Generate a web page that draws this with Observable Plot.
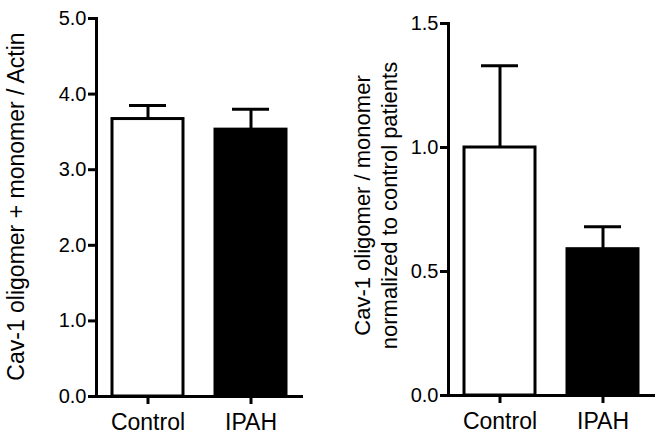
<!DOCTYPE html>
<html>
<head>
<meta charset="utf-8">
<script src="https://cdn.jsdelivr.net/npm/d3@7"></script>
<script src="https://cdn.jsdelivr.net/npm/@observablehq/plot@0.6"></script>
<style>
  html, body { margin: 0; padding: 0; background: #fff; }
  #wrap { position: relative; width: 660px; height: 435px; overflow: hidden; background: #fff; }
  .panel { position: absolute; top: 0; }
  .panel g[aria-label="y-axis tick"], .panel g[aria-label="x-axis tick"],
  .panel g[aria-label="y-axis tick"] *, .panel g[aria-label="x-axis tick"] * { stroke-width: 3px !important; stroke: #000 !important; }
  .panel g[aria-label="y-axis tick label"] text { font-size: 20px !important; }
</style>
</head>
<body>
<div id="wrap">
  <div id="left" class="panel" style="left:0px"></div>
  <div id="right" class="panel" style="left:330px"></div>
</div>
<script>
// ---- data ----
const categories = ["Control", "IPAH"];
const fills = ["white", "black"];

const leftValues = [3.67, 3.53];
const leftSem = [0.18, 0.27];
const leftTicks = [0, 1, 2, 3, 4, 5];
const leftLabel = "Cav-1 oligomer + monomer / Actin";

const rightValues = [1.0, 0.59];
const rightSem = [0.33, 0.09];
const rightTicks = [0, 0.5, 1.0, 1.5];
const rightLabel = "Cav-1 oligomer / monomer\nnormalized to control patients";

const FONT = "'Liberation Sans', Arial, Helvetica, sans-serif";

function panel({values, sem, ticks, domain, label, marginLeft, marginRight, marginTop, marginBottom, labelDx, labelDy, labelSize, lineHeight}) {
  const rows = categories.map((c, i) => ({cat: c, v: values[i], hi: values[i] + sem[i], fill: fills[i]}));
  return Plot.plot({
    width: 330,
    height: 435,
    marginLeft, marginRight, marginTop, marginBottom,
    style: {fontFamily: FONT, color: "black", background: "white", overflow: "visible"},
    x: {domain: categories, paddingInner: 0.31, paddingOuter: 0.155, label: null},
    y: {domain, label: null},
    marks: [
      Plot.barY(rows, {x: "cat", y: "v", fill: "fill", stroke: "black", strokeWidth: 3}),
      Plot.ruleX(rows, {x: "cat", y1: "v", y2: "hi", stroke: "black", strokeWidth: 3}),
      Plot.tickY(rows, {x: "cat", y: "hi", stroke: "black", strokeWidth: 3, insetLeft: 17, insetRight: 17}),
      Plot.frame({anchor: "left", stroke: "black", strokeWidth: 3}),
      Plot.ruleY([0], {stroke: "black", strokeWidth: 3}),
      Plot.axisY({ticks, tickFormat: d3.format(".1f"), tickSize: 8, tickPadding: 2, fontSize: 20, strokeWidth: 3, label: null}),
      Plot.axisX({tickSize: 8, tickPadding: 9, fontSize: 23, strokeWidth: 3, label: null}),
      Plot.text([label], {text: d => d, frameAnchor: "left", rotate: -90, dx: labelDx, dy: labelDy,
        fontSize: labelSize, lineHeight, fill: "black", textAnchor: "middle"})
    ]
  });
}

document.getElementById("left").appendChild(panel({
  values: leftValues, sem: leftSem, ticks: leftTicks, domain: [0, 5], label: leftLabel,
  marginLeft: 96, marginRight: 27, marginTop: 18, marginBottom: 39,
  labelDx: -80, labelDy: -1, labelSize: 23, lineHeight: 1
}));

document.getElementById("right").appendChild(panel({
  values: rightValues, sem: rightSem, ticks: rightTicks, domain: [0, 1.5], label: rightLabel,
  marginLeft: 118, marginRight: 5, marginTop: 23, marginBottom: 40,
  labelDx: -74, labelDy: -4, labelSize: 22, lineHeight: 1.23
}));
</script>
</body>
</html>
